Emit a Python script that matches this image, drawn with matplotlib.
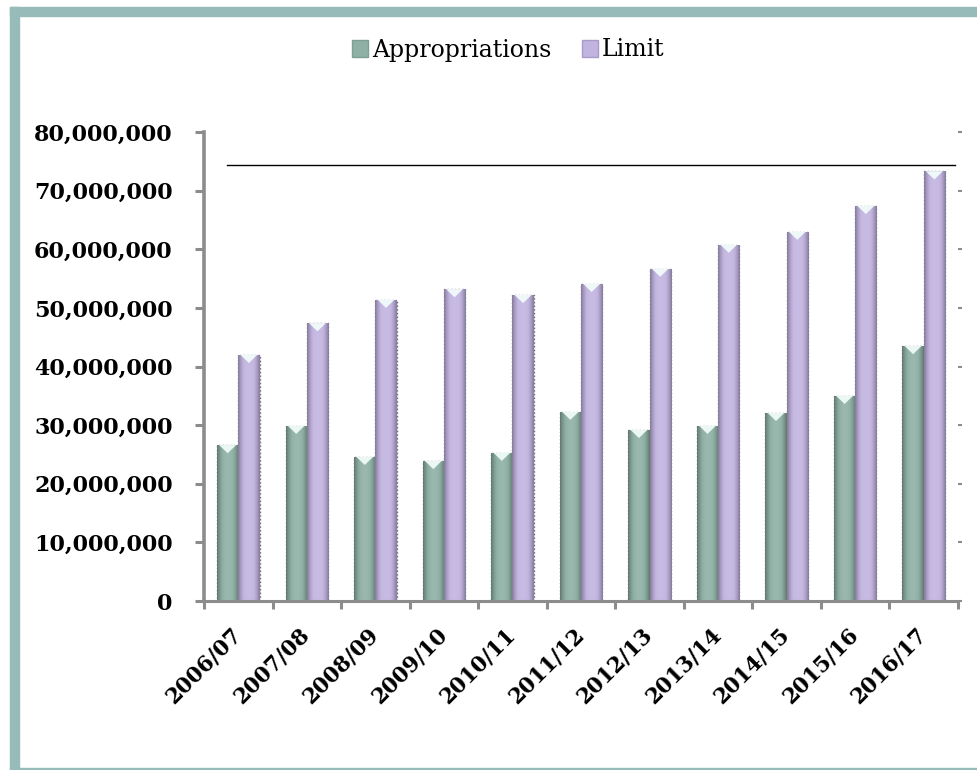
import numpy as np
import matplotlib
matplotlib.use("Agg")
import matplotlib.pyplot as plt
from matplotlib.patches import Rectangle, Polygon, Patch
from matplotlib.ticker import FuncFormatter, MultipleLocator

years = ["2006/07", "2007/08", "2008/09", "2009/10", "2010/11", "2011/12",
         "2012/13", "2013/14", "2014/15", "2015/16", "2016/17"]
appropriations = [26.6e6, 29.9e6, 24.6e6, 23.9e6, 25.3e6, 32.3e6,
                  29.2e6, 29.9e6, 32.1e6, 35.0e6, 43.5e6]
limit = [42.0e6, 47.4e6, 51.4e6, 53.2e6, 52.2e6, 54.1e6,
         56.7e6, 60.8e6, 63.0e6, 67.4e6, 73.3e6]
reference_level = 74.4e6

W, H = 978, 770
fig = plt.figure(figsize=(W / 100, H / 100), dpi=100)
fig.patch.set_facecolor("white")

# teal frame (top, left, bottom edges)
frame = "#97BBB9"
fig.patches.append(Rectangle((10 / W, 1 - 16 / H), 1 - 10 / W, 9 / H,
                             transform=fig.transFigure, color=frame, zorder=0))
fig.patches.append(Rectangle((10 / W, 0), 9 / W, 1 - 7 / H,
                             transform=fig.transFigure, color=frame, zorder=0))
fig.patches.append(Rectangle((10 / W, 0), 1 - 10 / W, 2.5 / H,
                             transform=fig.transFigure, color=frame, zorder=0))

ax = fig.add_axes([204 / W, 1 - 601 / H, (958 - 204) / W, (601 - 132) / H])

x = np.arange(len(years))
bw = 0.31
green = "#8FB0A5"
purple = "#C2B4E0"


def shade(hex_color, dark, light):
    c = np.array(matplotlib.colors.to_rgb(hex_color))
    t = np.linspace(-1, 1, 64)
    f = 1 - np.abs(t) ** 2.0
    rows = []
    for v in f:
        k = dark + (light - dark) * v
        if k >= 1:
            rows.append(c + (1 - c) * (k - 1))
        else:
            rows.append(c * k)
    return np.clip(np.array(rows)[None, :, :], 0, 1)


def cylinder_bars(xs, vals, color):
    bars = ax.bar(xs, vals, bw, color=color, edgecolor="#6E6E78",
                  linewidth=1.0, linestyle=":", zorder=2)
    grad = shade(color, 0.68, 1.1)
    for r in bars:
        x0, y0, w, h = r.get_x(), r.get_y(), r.get_width(), r.get_height()
        im = ax.imshow(grad, extent=[x0, x0 + w, y0, y0 + h],
                       aspect="auto", zorder=2.5, interpolation="bilinear")
        im.set_clip_path(r)
        tri = Polygon([[x0 + 0.1 * w, y0 + h], [x0 + 0.9 * w, y0 + h],
                       [x0 + 0.5 * w, y0 + h - 1.4e6]],
                      closed=True, facecolor="#F4FFFC", alpha=0.9,
                      edgecolor="none", zorder=3)
        ax.add_patch(tri)
    return bars


cylinder_bars(x - bw / 2, appropriations, green)
cylinder_bars(x + bw / 2, limit, purple)

ax.set_xlim(-0.5, len(years) - 0.5)
ax.set_ylim(0, 80e6)

ax.plot([0.03, 0.996], [reference_level, reference_level], color="black",
        lw=1.0, transform=ax.get_yaxis_transform(), zorder=4, clip_on=False)

for s in ["top", "right"]:
    ax.spines[s].set_visible(False)
ax.spines["left"].set_color("#8C8C8C")
ax.spines["left"].set_linewidth(2.6)
ax.spines["bottom"].set_color("#8C8C8C")
ax.spines["bottom"].set_linewidth(2.2)

ax.yaxis.set_major_locator(MultipleLocator(10e6))
ax.yaxis.set_major_formatter(FuncFormatter(lambda v, p: f"{int(round(v)):,}"))
ax.tick_params(axis="y", which="major", direction="out", length=6.5,
               width=2.2, color="#8C8C8C", pad=16, right=True,
               labelright=False)
for line in ax.yaxis.get_majorticklines()[1::2]:
    line.set_markersize(3)
    line.set_color("#555555")
    line.set_markeredgewidth(1.5)

ax.set_xticks(x)
ax.set_xticklabels(years)
ax.tick_params(axis="x", which="major", length=0, pad=22)
ax.set_xticks(np.arange(-0.5, len(years)), minor=True)
ax.tick_params(axis="x", which="minor", direction="out", length=6,
               width=2.2, color="#8C8C8C")

for lab in ax.get_yticklabels():
    lab.set_fontfamily("DejaVu Serif")
    lab.set_fontweight("bold")
    lab.set_fontsize(16)
for lab in ax.get_xticklabels():
    lab.set_fontfamily("DejaVu Serif")
    lab.set_fontweight("bold")
    lab.set_fontsize(15.5)
    lab.set_rotation(45)
    lab.set_ha("right")
    lab.set_va("center")
    lab.set_rotation_mode("anchor")

handles = [Patch(facecolor=green, edgecolor="#7F9F95"),
           Patch(facecolor=purple, edgecolor="#A89BC8")]
fig.legend(handles, ["Appropriations", "Limit"], loc="center",
           bbox_to_anchor=(508 / W, 1 - 50 / H), ncol=2, frameon=False,
           prop={"family": "DejaVu Serif", "size": 17},
           handlelength=0.7, handleheight=0.7, handletextpad=0.15,
           columnspacing=1.3)

fig.savefig("out.png", dpi=100)
